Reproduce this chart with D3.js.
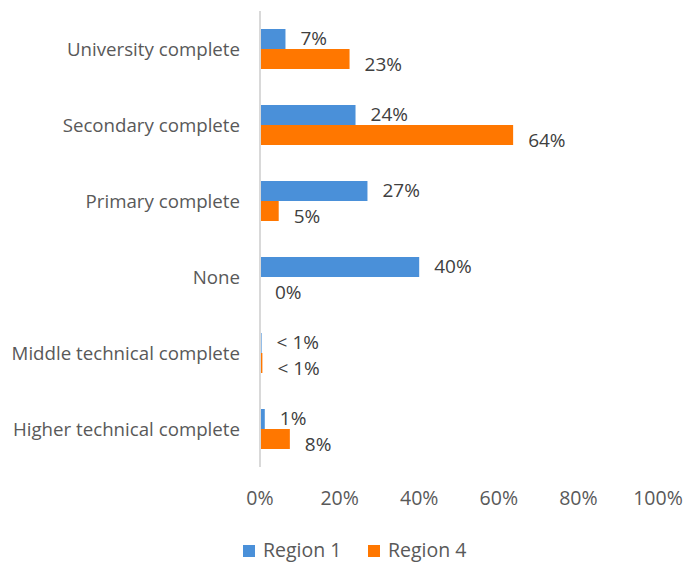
<!DOCTYPE html>
<meta charset="utf-8">
<script src="https://d3js.org/d3.v7.min.js"></script>
<style>
  body { margin: 0; background: #fff; }
  text { font-family: "Open Sans", sans-serif; }
</style>
<div id="chart"></div>
<script>

// data
var categories = ["University complete", "Secondary complete", "Primary complete",
                  "None", "Middle technical complete", "Higher technical complete"];
var region1 = [6.4, 24, 27, 40, 0.4, 1.2];
var region4 = [22.5, 63.6, 4.7, 0, 0.6, 7.5];
var region1Labels = ["7%", "24%", "27%", "40%", "< 1%", "1%"];
var region4Labels = ["23%", "64%", "5%", "0%", "< 1%", "8%"];
var seriesNames = ["Region 1", "Region 4"];
var xTicks = [0, 20, 40, 60, 80, 100];

var W = 685, H = 563;
var margin = {top: 11, right: 27, bottom: 96, left: 260},
    width = W - margin.left - margin.right,
    height = H - margin.top - margin.bottom;

var colors = ["#4a90d9", "#ff7700"];

var svg = d3.select("#chart")
  .append("svg")
    .attr("width", W)
    .attr("height", H)
  .append("g")
    .attr("transform", "translate(" + margin.left + "," + margin.top + ")");

var x = d3.scaleLinear()
  .domain([0, 100])
  .range([0, 398]);

var y = d3.scaleBand()
  .domain(categories)
  .range([0, height]);

var inner = d3.scaleBand()
  .domain([0, 1])
  .range([y.bandwidth() / 2 - 20, y.bandwidth() / 2 + 20]);

// category labels
svg.append("g")
  .selectAll("text")
  .data(categories)
  .enter().append("text")
    .attr("x", -20)
    .attr("y", function(d) { return y(d) + y.bandwidth() / 2; })
    .attr("dy", "0.35em")
    .attr("text-anchor", "end")
    .style("font-size", "18.7px")
    .style("fill", "#595959")
    .text(function(d) { return d; });

// bars and data labels
var series = [region1, region4];
var labels = [region1Labels, region4Labels];
var labelShift = [-1, 5];
series.forEach(function(vals, s) {
  svg.append("g")
    .selectAll("rect")
    .data(vals)
    .enter().append("rect")
      .attr("x", x(0))
      .attr("y", function(d, i) { return y(categories[i]) + inner(s); })
      .attr("width", function(d) { return x(d) - x(0); })
      .attr("height", inner.bandwidth())
      .style("fill", colors[s]);

  svg.append("g")
    .selectAll("text")
    .data(vals)
    .enter().append("text")
      .attr("x", function(d) { return x(d) + 15; })
      .attr("y", function(d, i) { return y(categories[i]) + inner(s) + inner.bandwidth() / 2 + labelShift[s]; })
      .attr("dy", "0.35em")
      .style("font-size", "19px")
      .style("fill", "#404040")
      .text(function(d, i) { return labels[s][i]; });
});

// vertical axis line
svg.append("line")
  .attr("x1", x(0)).attr("x2", x(0))
  .attr("y1", 0).attr("y2", height)
  .attr("stroke", "#d9d9d9")
  .attr("stroke-width", 2);

// x tick labels
svg.append("g")
  .selectAll("text")
  .data(xTicks)
  .enter().append("text")
    .attr("x", function(d) { return x(d); })
    .attr("y", height + 31)
    .attr("dy", "0.35em")
    .attr("text-anchor", "middle")
    .style("font-size", "19.5px")
    .style("fill", "#595959")
    .text(function(d) { return d + "%"; });

// legend
var legend = svg.append("g")
    .attr("transform", "translate(-17," + (height + 83) + ")")
  .selectAll("g")
  .data(seriesNames)
  .enter().append("g")
    .attr("transform", function(d, i) { return "translate(" + i * 125 + ",0)"; });

legend.append("rect")
  .attr("x", 0)
  .attr("y", -5)
  .attr("width", 12)
  .attr("height", 12)
  .style("fill", function(d, i) { return colors[i]; });

legend.append("text")
  .attr("x", 20)
  .attr("y", 0)
  .attr("dy", "0.35em")
  .style("font-size", "19.5px")
  .style("fill", "#595959")
  .text(function(d) { return d; });

</script>
